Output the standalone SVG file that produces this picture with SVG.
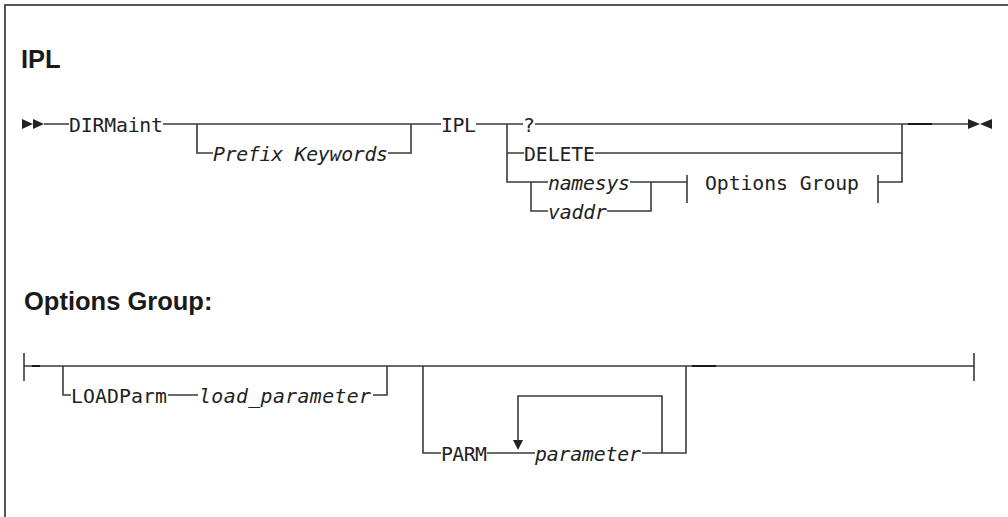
<svg xmlns="http://www.w3.org/2000/svg" width="1008" height="517" viewBox="0 0 1008 517">
<style>
.ln{fill:none;stroke:#3a3a3a;stroke-width:1.6}
.dk{fill:none;stroke:#1a1a1a;stroke-width:2}
.t{font-family:"DejaVu Sans Mono","Liberation Mono",monospace;font-size:19.8px;fill:#222}
.i{font-style:italic}
.h{font-family:"Liberation Sans",Arial,sans-serif;font-weight:bold;font-size:25.5px;fill:#1a1a1a}
.ah{fill:#222;stroke:none}
</style>
<rect width="1008" height="517" fill="#fff"/>
<path d="M5,517 V5 H1008" fill="none" stroke="#555" stroke-width="2"/>
<g id="title-ipl"><text class="h" x="21" y="68">IPL</text></g>
<g id="title-options"><text class="h" x="24" y="310">Options Group:</text></g>
<g id="connectors">
  <path class="ah" d="M22,119 L33,124 L22,129 Z M33,119 L44,124 L33,129 Z"/>
  <path class="ah" d="M968,119 L980,124 L968,129 Z M992,119 L980,124 L992,129 Z"/>
  <path class="ln" d="M44,124 H69 M163,124 H441 M476,124 H523 M535,124 H968"/>
  <path class="ln" d="M197,124 V153 H213 M388,153 H411 V124"/>
  <path class="ln" d="M507,124 V182 H548 M507,153 H524 M595,153 H902 M531,182 V211 H548 M607,211 H651 V182 M630,182 H687 M878,182 H902 V124"/>
  <path class="ln" d="M687,175 V203 M878,175 V203"/>
  <path class="dk" d="M908,124 H932"/>
  <path class="ln" d="M24,353 V381 M24,366 H974 M974,353 V381"/>
  <path class="dk" d="M32,366 H40 M692,366 H716"/>
  <path class="ln" d="M63,366 V395 H71 M168,395 H198 M373,395 H387 V366"/>
  <path class="ln" d="M423,366 V453 H441 M487,453 H535 M642,453 H686 V366 M662,453 V396 H518 V441"/>
  <path class="ah" d="M513,440 L523,440 L518,450 Z"/>
</g>
<g id="n-dirmaint"><text class="t" x="69" y="131.5" textLength="94" lengthAdjust="spacing">DIRMaint</text></g>
<g id="n-prefix"><text class="t i" x="213" y="160.5" textLength="175" lengthAdjust="spacing">Prefix Keywords</text></g>
<g id="n-ipl"><text class="t" x="441" y="131.5" textLength="35" lengthAdjust="spacing">IPL</text></g>
<g id="n-question"><text class="t" x="523" y="131.5">?</text></g>
<g id="n-delete"><text class="t" x="524" y="160.5" textLength="71" lengthAdjust="spacing">DELETE</text></g>
<g id="n-namesys"><text class="t i" x="548" y="189.5" textLength="82" lengthAdjust="spacing">namesys</text></g>
<g id="n-vaddr"><text class="t i" x="548" y="218.5" textLength="59" lengthAdjust="spacing">vaddr</text></g>
<g id="n-optref"><text class="t" x="705" y="189.5" textLength="154" lengthAdjust="spacing">Options Group</text></g>
<g id="n-loadparm"><text class="t" x="71" y="402.5" textLength="96" lengthAdjust="spacing">LOADParm</text></g>
<g id="n-loadparameter"><text class="t i" x="199" y="402.5" textLength="172" lengthAdjust="spacing">load_parameter</text></g>
<g id="n-parm"><text class="t" x="441" y="460.5" textLength="46" lengthAdjust="spacing">PARM</text></g>
<g id="n-parameter"><text class="t i" x="535" y="460.5" textLength="106" lengthAdjust="spacing">parameter</text></g>
</svg>
